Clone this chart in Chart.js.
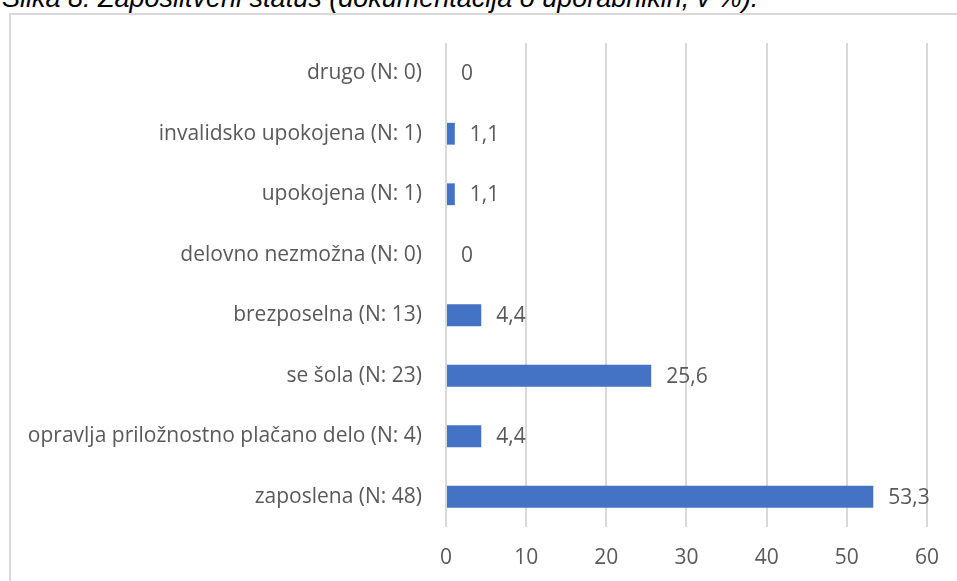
<!DOCTYPE html>
<html>
<head>
<meta charset="utf-8">
<script src="https://cdn.jsdelivr.net/npm/chart.js@4"></script>
<style>
    html, body { margin: 0; padding: 0; background: #fff; overflow: hidden; }
    body { width: 957px; height: 581px; position: relative; }
    #title {
        position: absolute; left: 2px; top: -15px;
        font: italic 27px 'Liberation Sans', Arial, sans-serif;
        line-height: 27px;
        color: #000; white-space: nowrap;
    }
    #box {
        position: absolute; left: 9px; top: 13px; width: 960px; height: 580px;
        border-left: 2px solid #d9d9d9; border-top: 2px solid #d9d9d9;
    }
    #wrap { position: absolute; left: 10px; top: 14px; width: 947px; height: 567px; }
</style>
</head>
<body>
<div id="title">Slika 8: Zaposlitveni status (dokumentacija o uporabnikih, v %).</div>
<div id="box"></div>
<div id="wrap"><canvas id="statusChart"></canvas></div>
<script>
const categories = [
    'drugo (N: 0)',
    'invalidsko upokojena (N: 1)',
    'upokojena (N: 1)',
    'delovno nezmožna (N: 0)',
    'brezposelna (N: 13)',
    'se šola (N: 23)',
    'opravlja priložnostno plačano delo (N: 4)',
    'zaposlena (N: 48)'
];
const percentValues = [0, 1.1, 1.1, 0, 4.4, 25.6, 4.4, 53.3];
const xTicks = [0, 10, 20, 30, 40, 50, 60];

const colors = {
    bar: '#4472C4',
    text: '#595959',
    grid: '#d9d9d9'
};
const fontFamily = "'Open Sans', 'Noto Sans', sans-serif";
const fontSize = 21;

// Draw value labels next to each bar (comma as decimal separator)
const valueLabels = {
    id: 'valueLabels',
    afterDatasetsDraw(chart) {
        const ctx = chart.ctx;
        const meta = chart.getDatasetMeta(0);
        ctx.save();
        ctx.font = fontSize + 'px ' + fontFamily;
        ctx.fillStyle = colors.text;
        ctx.textAlign = 'left';
        ctx.textBaseline = 'middle';
        meta.data.forEach((bar, i) => {
            const txt = String(percentValues[i]).replace('.', ',');
            ctx.fillText(txt, bar.x + 15, bar.y + 1);
        });
        ctx.restore();
    }
};

new Chart(document.getElementById('statusChart').getContext('2d'), {
    type: 'bar',
    data: {
        labels: categories,
        datasets: [{
            data: percentValues,
            backgroundColor: colors.bar,
            borderWidth: 0,
            barPercentage: 0.36,
            categoryPercentage: 1
        }]
    },
    options: {
        indexAxis: 'y',
        responsive: true,
        maintainAspectRatio: false,
        animation: false,
        layout: { padding: { top: 29, right: 28, bottom: 0, left: 0 } },
        plugins: {
            legend: { display: false },
            tooltip: { enabled: false }
        },
        scales: {
            x: {
                min: 0,
                max: 60,
                afterBuildTicks: (scale) => { scale.ticks = xTicks.map(v => ({ value: v })); },
                afterFit: (scale) => { scale.height = 54; },
                grid: { color: colors.grid, lineWidth: 2, drawTicks: false },
                border: { display: false },
                ticks: {
                    color: colors.text,
                    font: { family: fontFamily, size: fontSize },
                    padding: 18
                }
            },
            y: {
                afterFit: (scale) => { scale.width = 436; },
                grid: { display: false },
                border: { display: false },
                ticks: {
                    color: colors.text,
                    font: { family: fontFamily, size: fontSize },
                    padding: 16
                }
            }
        }
    },
    plugins: [valueLabels]
});
</script>
</body>
</html>
